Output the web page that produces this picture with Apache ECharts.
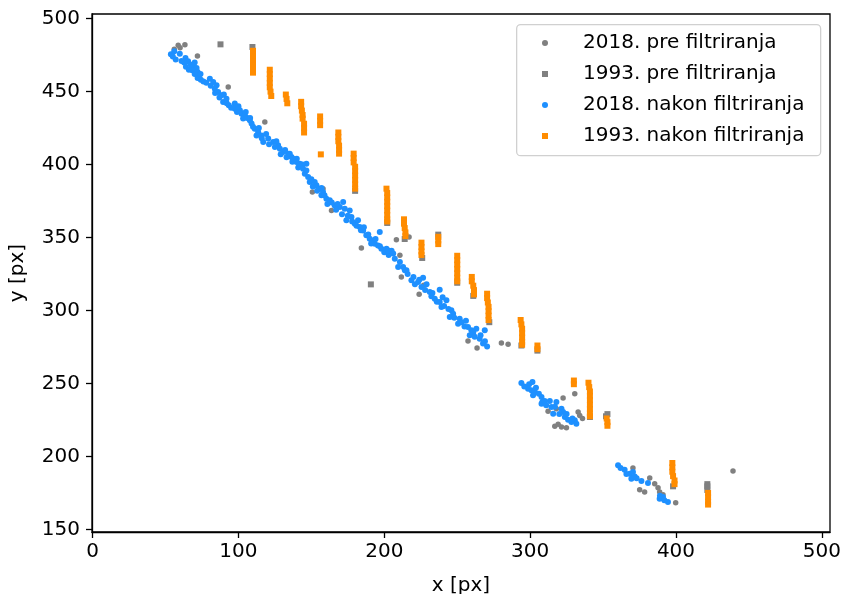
<!DOCTYPE html>
<html><head><meta charset="utf-8">
<script src="https://cdn.jsdelivr.net/npm/echarts@6/dist/echarts.min.js"></script>
<style>html,body{margin:0;padding:0;background:#fff}#c{width:842px;height:594px}</style>
</head><body><div id="c"></div>
<script>
const seriesNames = ['2018. pre filtriranja', '1993. pre filtriranja', '2018. nakon filtriranja', '1993. nakon filtriranja'];
const xTicks = [0, 100, 200, 300, 400, 500];
const yTicks = [150, 200, 250, 300, 350, 400, 450, 500];
const xName = 'x [px]';
const yName = 'y [px]';

// 2018, before filtering (visible outliers)
const pre2018 = [[56,479],[58.7,481.7],[60,480],[63.3,482.2],[71.9,474.4],[93,453.2],[118.1,429.2],[150.7,381.2],[158,383.5],[163.8,368.6],[184.3,342.8],[208.3,348.5],[217,350.3],[210.7,337.8],[211.7,323],[223.9,311.1],[227,317.3],[257.4,279.1],[263.6,274.3],[280.3,277.7],[284.9,276.8],[322.6,240],[330.6,243],[312.3,230.9],[318,232.7],[316.9,220.6],[319.2,222],[321.5,220.1],[324.9,219.7],[332.9,230.4],[335.9,225.9],[334,228.1],[370.5,192],[382,185.2],[375.1,177.2],[378.5,175.6],[385.4,181.3],[387.7,178.6],[388.8,175.6],[391.1,173.8],[399.8,168.3],[439.1,190]];

// 1993, before filtering (visible squares)
const pre1993 = [[87.7,482.4],[109.6,480.6],[190.8,317.9],[237,352],[226,336],[305,272.5],[353,229],[352,227.5],[421.5,177],[421.5,179.5],[421.5,181],[214,349],[272,292],[180,382],[202,360],[261,310],[341,227],[398,179.5],[250,319],[294,276]];

// 2018, after filtering
const post2018 = [[53.7,475.6],[56,477.6],[55,474],[59.8,476],[63.7,473],[65.5,470.8],[62.8,469.9],[67.4,468.5],[69,467],[71.3,466.2],[68.3,464.6],[72,463.5],[72.9,460.7],[74.2,458.2],[72,459.4],[80.4,458.9],[82.7,456.6],[85,454.3],[83.8,452],[86.1,449.8],[88.4,447.5],[91.8,445.2],[89.5,442.9],[93.4,440.6],[97.5,441.8],[97.5,438.3],[101,437.2],[102.1,434.9],[104.4,433.8],[103.2,431.5],[107.8,430.3],[109,428.1],[111.2,424.6],[113.5,422.3],[112.4,420],[115.8,420],[117,415.5],[120.4,417.8],[123.8,415.5],[127.2,413.2],[128.4,410.9],[130.7,408.6],[134.1,407.5],[136.4,405.2],[138.7,402.9],[142.1,400.6],[146.6,400.6],
[57,472],[61,471],[64,467],[66,465],[70,462],[74,462],[76,457],[70,470],[78,456],[81,454],[84,449],[87,446],[90,448],[92,442],[95,439],[99,436],[100,440],[105,436],[106,432],[110,426],[108,432],[114,425],[116,418],[119,421],[121,414],[125,412],[126,416],[129,407],[132,410],[133,405],[137,402],[140,404],[141,398],[144,400],
[135.2,407.5],[137.5,404],[139.8,401.7],[142,399.5],[144.3,397.2],[145.5,393.7],[146.6,396],[147.8,391.5],[148.9,388],[152.3,388],[153.5,385.8],[155.8,383.5],[156.9,378.9],[158,381.2],[160.3,376.6],[162.6,375.5],[166,372],[169.5,370.9],[171.8,374.3],[172.9,369.8],[174,361.8],[176.3,368.6],[177.5,364],[179.8,359.5],[182,361.8],[183.2,357.2],[185.5,354.9],[187.7,351.5],[190,349.2],[192.3,348],[193.5,345.8],[195.7,344.6],[196.9,353.8],[198,342.3],[201.5,342.3],
[150,390],[151,385],[154,382],[157,384],[159,379],[161,373],[164,374],[167,369],[168,373],[171,366],[175,365],[178,361],[181,358],[184,355],[186,357],[189,352],[191,346],[194,349],[197,344],[200,340],[203,338],[205,341],
[202.7,341.2],[206.1,339],[207.2,335.5],[210.7,333.2],[209.5,329.8],[214.1,327.5],
[212.9,329.8],[215.2,327.5],[218.6,320.7],[223.2,319.5],[226.6,322.5],[225.5,316.1],[231.2,312.7],[232.3,309.7],[234.6,308.1],[238,314.3],[238,305.8],[239.2,302.4],[242.6,307],[246,300.1],[247.2,297.8],[244.9,295.5],[251.7,294.4],[250.6,291],[257.4,288.7],[259.7,286.4],[263.1,287.5],[258.6,283],[268.9,286.4],[265.4,280.7],[267.7,277.3],[270.5,275.4],
[216,325],[220,323],[221,318],[224,321],[228,314],[229,318],[233,312],[236,306],[240,309],[241,303],[244,301],[248,295],[253,292],[255,289],[256,293],[261,285],[262,282],[266,283],[269,279],
[294,250.3],[299.3,249.4],[301.6,251],[298.6,246.4],[300.9,245.3],[303.2,244.1],[302,241.9],[307.8,240.7],[308.4,237.3],[307.8,236.1],[313.5,238],[314.6,233.9],[318,237.3],[315.8,229.3],[321.5,232.7],[322.6,230.4],[323.8,227],[326,225.2],[328.3,223.6],[330.6,224.7],[331.7,222.4],
[296,248],[304,247],[306,243],[310,238],[311,235],[317,234],[320,229],[325,229],[329,226],
[360.3,193.9],[364.8,190.9],[368.3,188.2],[370.5,189.3],[369.4,184.7],[371.7,186.3],[376.3,183.1],[380.8,181.8],[388.8,171],[391.1,172.2],[394.5,168.7],
[362,192],[366,188],[373,185],[389,173],[392,170]];

// 1993, after filtering
const post1993 = [[110,463],[110,466],[110,469],[110,472],[110,475],[110,478],
[121.5,465],[121.5,462],[121.5,459],[121.5,456],[121.5,453],[122,450],[122.5,447],
[132.5,448],[133,445],[133.5,442],
[143,443],[143,440],[143.5,437],[144,434],[144,431.5],[145,428],[145,425],[145,422],
[156,433],[156,430],[156,427],[156.5,407],
[168.5,422],[168.5,419],[168.5,416],[169,413],[169,410],[169,407.5],
[179,407.5],[179,404.5],[179,401.5],[180,398.5],[180,395.5],[180,392.5],[180,389.5],[180,386.5],[180,383.5],
[201.5,383.5],[202,380.5],[202,377.5],[202,374.5],[202,371.5],[202,368.5],[202,365.5],[202,362.5],[202,361],
[213.5,362.5],[213.5,359.5],[214,356.5],[214.5,353.5],[214.5,351],
[225.5,346.5],[225.5,343.5],[225.5,340.5],[225.5,338],
[237,350.5],[237,348],[237,345.5],
[250,337.5],[250,334.5],[250,331.5],[250,328.5],[250,325.5],[250,322.5],[250,320],
[260,323],[260,320],[261,317],[261.5,314],[261.5,311],
[270.5,311.5],[270.5,308.5],[271,305.5],[271.5,302.5],[271.5,299.5],[271.5,296.5],[271.5,293.5],
[293.5,293.5],[294,290.5],[294.5,287.5],[294.5,284.5],[294.5,281.5],[294.5,278.5],[294.5,276.5],
[305,276],[305,273.5],
[330,252],[330,249.5],
[340,250.5],[340.5,247.5],[341,244.5],[341,241.5],[341,238.5],[341,235.5],[341,232.5],[341,229.5],[341,227.5],
[352.5,226],[353,223.5],[353,221],
[397.5,195.5],[397.5,192.5],[397.5,189.5],[398,186.5],[399,183.5],[399,181],
[422,175],[422,172],[422,169],[422,167]];

const FONT = 'DejaVu Sans';
const chart = echarts.init(document.getElementById('c'), null, {renderer: 'canvas'});
const axisCommon = {
  type: 'value',
  splitLine: {show: false},
  axisLine: {show: true, onZero: false, lineStyle: {color: '#000', width: 1.3}},
  axisTick: {show: true, length: 6, lineStyle: {color: '#000', width: 1.3}},
  axisLabel: {color: '#000', fontSize: 20, fontFamily: FONT},
  nameTextStyle: {color: '#000', fontSize: 20, fontFamily: FONT}
};
chart.setOption({
  animation: false,
  backgroundColor: '#fff',
  grid: {left: 92, right: 12, top: 14, bottom: 62, show: true, borderColor: '#000', borderWidth: 1.3, containLabel: false, outerBoundsMode: 'none'},
  xAxis: Object.assign({}, axisCommon, {
    min: -0.4, max: 505.6,
    name: xName, nameLocation: 'middle', nameGap: 44,
    axisTick: Object.assign({}, axisCommon.axisTick, {customValues: xTicks}),
    axisLabel: Object.assign({}, axisCommon.axisLabel, {customValues: xTicks, margin: 10})
  }),
  yAxis: Object.assign({}, axisCommon, {
    min: 148.2, max: 503.2,
    name: yName, nameLocation: 'middle', nameGap: 64, nameRotate: 90,
    axisTick: Object.assign({}, axisCommon.axisTick, {customValues: yTicks}),
    axisLabel: Object.assign({}, axisCommon.axisLabel, {customValues: yTicks, margin: 12})
  }),
  graphic: [{
    type: 'rect', z: 3, left: 516, top: 24,
    shape: {width: 304, height: 131, r: 4},
    style: {fill: 'rgba(255,255,255,0.8)', stroke: '#d0d0d0', lineWidth: 1.3}
  }],
  legend: {
    orient: 'vertical', left: 542, top: 33, padding: 0, z: 5,
    itemWidth: 6, itemHeight: 6, itemGap: 11,
    textStyle: {fontSize: 20, fontFamily: FONT, color: '#000', lineHeight: 20, padding: [0, 0, 0, 30]},
    data: [
      {name: seriesNames[0], icon: 'circle'},
      {name: seriesNames[1], icon: 'rect'},
      {name: seriesNames[2], icon: 'circle'},
      {name: seriesNames[3], icon: 'rect'}
    ]
  },
  series: [
    {name: seriesNames[0], type: 'scatter', data: pre2018, symbol: 'circle', symbolSize: 5.5, itemStyle: {color: '#808080', opacity: 1}},
    {name: seriesNames[1], type: 'scatter', data: pre1993, symbol: 'rect', symbolSize: 6, itemStyle: {color: '#808080', opacity: 1}},
    {name: seriesNames[2], type: 'scatter', data: post2018, symbol: 'circle', symbolSize: 6, itemStyle: {color: '#1e90ff', opacity: 1}},
    {name: seriesNames[3], type: 'scatter', data: post1993, symbol: 'rect', symbolSize: 6, itemStyle: {color: '#ff8c00', opacity: 1}}
  ]
});
</script></body></html>
